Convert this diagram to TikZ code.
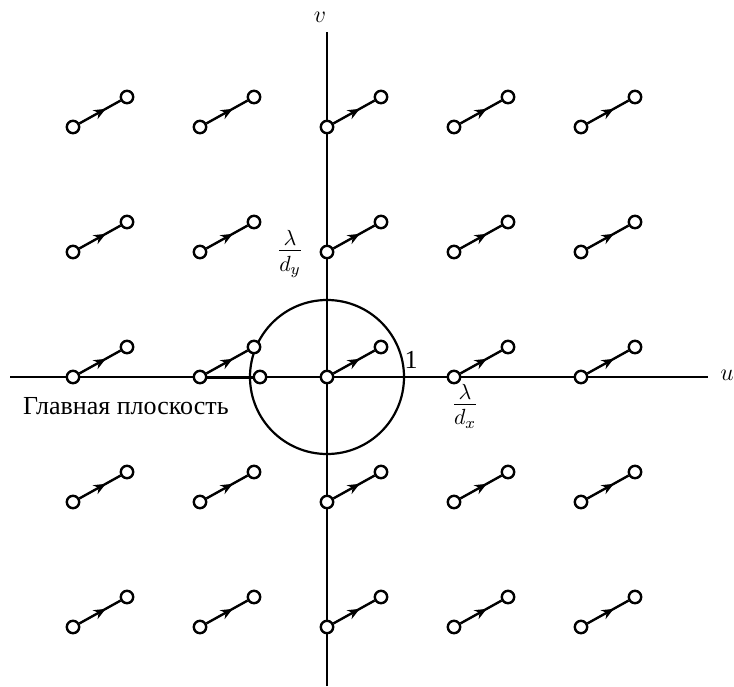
\documentclass[tikz,border=0pt]{standalone}
\usepackage{fontspec}
\setmainfont{Liberation Serif}
\usetikzlibrary{arrows.meta,decorations.markings}
\tikzset{
  pole/.style     = {draw, circle, fill=white, line width=1.2pt, inner sep=0pt,
                     minimum size=6.2pt},
  link/.style     = {line width=1.2pt, postaction={decorate},
                     decoration={markings,
                       mark=at position 0.64 with {\arrow{Stealth[length=6pt,width=5pt]}}}},
  axisline/.style = {line width=1pt},
  frac/.style     = {font=\fontsize{16}{18}\selectfont},
}
\begin{document}
\begin{tikzpicture}[x=0.5pt,y=-0.5pt,font=\fontsize{13}{15}\selectfont]
\useasboundingbox (0,0) rectangle (734,686);
% axes
\coordinate (o) at (327,377);
\coordinate (uL) at (10,377);
\coordinate (uR) at (708,377);
\coordinate (vT) at (327,32);
\coordinate (vB) at (327,686);
\draw[axisline] (uL) -- (uR);
\draw[axisline] (vB) -- (vT);
\node (ulab) at (727,375) {$u$};
\node (vlab) at (320,17) {$v$};
% unit circle
\draw[line width=1.1pt] (o) circle[radius=77];
\node (one) at (411,360) {1};
% lattice of pairs
\foreach \i in {-2,...,2}
  \foreach \j in {-2,...,2} {
    \node[pole] (p\i\j) at ({327+127*\i},{377-125*\j}) {};
    \node[pole] (q\i\j) at ({381+127*\i},{347-125*\j}) {};
    \draw[link] (p\i\j) -- (q\i\j);
  }
\node[pole] (extra) at (260,377) {};
\draw[line width=1.5pt] (p-10) -- (extra);
% labels
\node[frac] (dy) at (290,254) {$\frac{\lambda}{d_y}$};
\node[frac] (dx) at (465,406) {$\frac{\lambda}{d_x}$};
\node[anchor=west] (plane) at (16,406) {Главная плоскость};
\end{tikzpicture}
\end{document}
